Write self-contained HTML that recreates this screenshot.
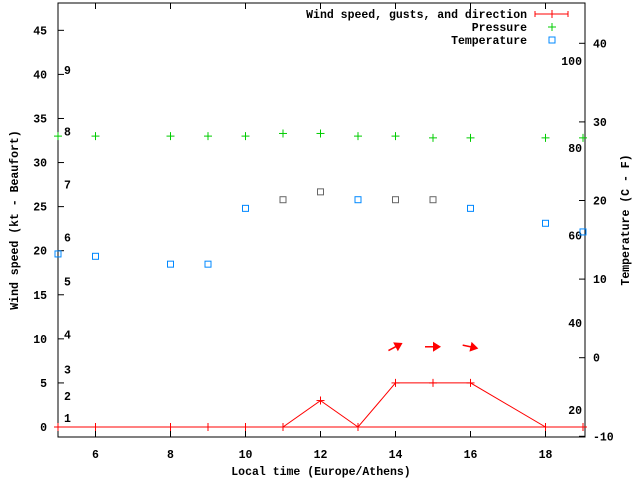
<!DOCTYPE html>
<html><head><meta charset="utf-8"><style>
body{margin:0;background:#fff}
svg{display:block}
text{font-family:"Liberation Mono",monospace;font-size:11.5px;font-weight:bold;fill:#000}
</style></head><body>
<svg id="chart" width="640" height="480" xmlns="http://www.w3.org/2000/svg"></svg>
<script>
const hours = [5,6,8,9,10,11,12,13,14,15,16,18,19];
const windSpeed = [0,0,0,0,0,0,3,0,5,5,5,0,0];
const pressure = [33.0,33.0,33.0,33.0,33.0,33.3,33.3,33.0,33.0,32.8,32.8,32.8,32.8];
const temperature = [13.2,12.9,11.9,11.9,19.0,20.1,21.1,20.1,20.1,20.1,19.0,17.1,16.0];
const tempGray = [false,false,false,false,false,true,true,false,true,true,false,false,false];
const arrowHours = [14,15,16];
const arrowAngles = [-28,0,12];
const xTicks = [6,8,10,12,14,16,18];
const yTicks = [0,5,10,15,20,25,30,35,40,45];
const tTicks = [-10,0,10,20,30,40];
const beaufortLabels = ["1","2","3","4","5","6","7","8","9"];
const beaufortKt = [1,3.5,6.5,10.5,16.5,21.5,27.5,33.5,40.5];
const fLabels = [20,40,60,80,100];

const L=58,R=585,T=3,B=437;
const X=v=>L+(v-5)*37.5;
const Y=v=>427-v*8.815;
const TY=c=>357.7-c*7.86;
const svg=document.getElementById('chart');
const NS='http://www.w3.org/2000/svg';
function mk(tag,attrs,parent){const e=document.createElementNS(NS,tag);for(const k in attrs)e.setAttribute(k,attrs[k]);(parent||svg).appendChild(e);return e;}
function txt(s,x,y,anchor,parent){const e=mk('text',{x:x,y:y,'text-anchor':anchor||'start'},parent);e.textContent=s;return e;}

const frame=mk('rect',{x:L,y:T,width:R-L,height:B-T,fill:'none',stroke:'#000','stroke-width':1});



const xa=mk('g',{});


xTicks.forEach(v=>{mk('line',{x1:X(v),x2:X(v),y1:B,y2:B-6,stroke:'#000'},xa);mk('line',{x1:X(v),x2:X(v),y1:T,y2:T+6,stroke:'#000'},xa);
 const t=txt(String(v),X(v),458,'middle',xa);});
const xt=txt('Local time (Europe/Athens)',321,475,'middle');



const ya=mk('g',{});


yTicks.forEach(v=>{mk('line',{x1:L,x2:L+6,y1:Y(v),y2:Y(v),stroke:'#000'},ya);
 const t=txt(String(v),47,Y(v)+4,'end',ya);});
beaufortLabels.forEach((s,i)=>{const t=txt(s,64,Y(beaufortKt[i])+4,'start',ya);});
const yt=txt('Wind speed (kt - Beaufort)',0,0,'middle');
yt.setAttribute('transform','translate(18,220) rotate(-90)');



const ra=mk('g',{});


tTicks.forEach(v=>{mk('line',{x1:R,x2:R-6,y1:TY(v),y2:TY(v),stroke:'#000'},ra);
 const t=txt(String(v),593,TY(v)+4,'start',ra);});
fLabels.forEach(f=>{const t=txt(String(f),582,TY((f-32)*5/9)+4,'end',ra);});
const rt=txt('Temperature (C - F)',0,0,'middle');
rt.setAttribute('transform','translate(629,220) rotate(-90)');



// wind line
const wl=mk('polyline',{points:hours.map((h,i)=>X(h)+','+Y(windSpeed[i])).join(' '),fill:'none',stroke:'#f00','stroke-width':1});


mk('line',{x1:L,x2:R,y1:Y(0),y2:Y(0),stroke:'#f00'});
hours.forEach((h,i)=>{const g=mk('g',{stroke:'#f00'});
 
 
 mk('line',{x1:X(h),x2:X(h),y1:Y(windSpeed[i])-4,y2:Y(windSpeed[i])+4},g);
 mk('line',{x1:X(h)-4,x2:X(h)+4,y1:Y(windSpeed[i]),y2:Y(windSpeed[i])},g);});
arrowHours.forEach((h,i)=>{const g=mk('g',{transform:`translate(${X(h)},${Y(9.1)}) rotate(${arrowAngles[i]})`});
 
 
 mk('line',{x1:-8,x2:4,y1:0,y2:0,stroke:'#f00','stroke-width':1.5},g);
 mk('polygon',{points:'0,-5 8,0 0,5',fill:'#f00'},g);});

// pressure
hours.forEach((h,i)=>{const g=mk('g',{stroke:'#0c0'});
 
 
 mk('line',{x1:X(h),x2:X(h),y1:Y(pressure[i])-4,y2:Y(pressure[i])+4},g);
 mk('line',{x1:X(h)-4,x2:X(h)+4,y1:Y(pressure[i]),y2:Y(pressure[i])},g);});

// temperature
hours.forEach((h,i)=>{const r=mk('rect',{x:X(h)-3,y:TY(temperature[i])-3,width:6,height:6,fill:'none',stroke:tempGray[i]?'#666':'#08f'});
 
 });

// legend
const lg=mk('g',{});


txt('Wind speed, gusts, and direction',527,18,'end',lg);
mk('line',{x1:535,x2:568,y1:14,y2:14,stroke:'#f00'},lg);
mk('line',{x1:535,x2:535,y1:11,y2:17,stroke:'#f00'},lg);
mk('line',{x1:568,x2:568,y1:11,y2:17,stroke:'#f00'},lg);
mk('line',{x1:552,x2:552,y1:10,y2:18,stroke:'#f00'},lg);
txt('Pressure',527,31,'end',lg);
mk('line',{x1:552,x2:552,y1:23,y2:31,stroke:'#0c0'},lg);
mk('line',{x1:548,x2:556,y1:27,y2:27,stroke:'#0c0'},lg);
txt('Temperature',527,44,'end',lg);
mk('rect',{x:549,y:37,width:6,height:6,fill:'none',stroke:'#08f'},lg);
</script>
</body></html>
